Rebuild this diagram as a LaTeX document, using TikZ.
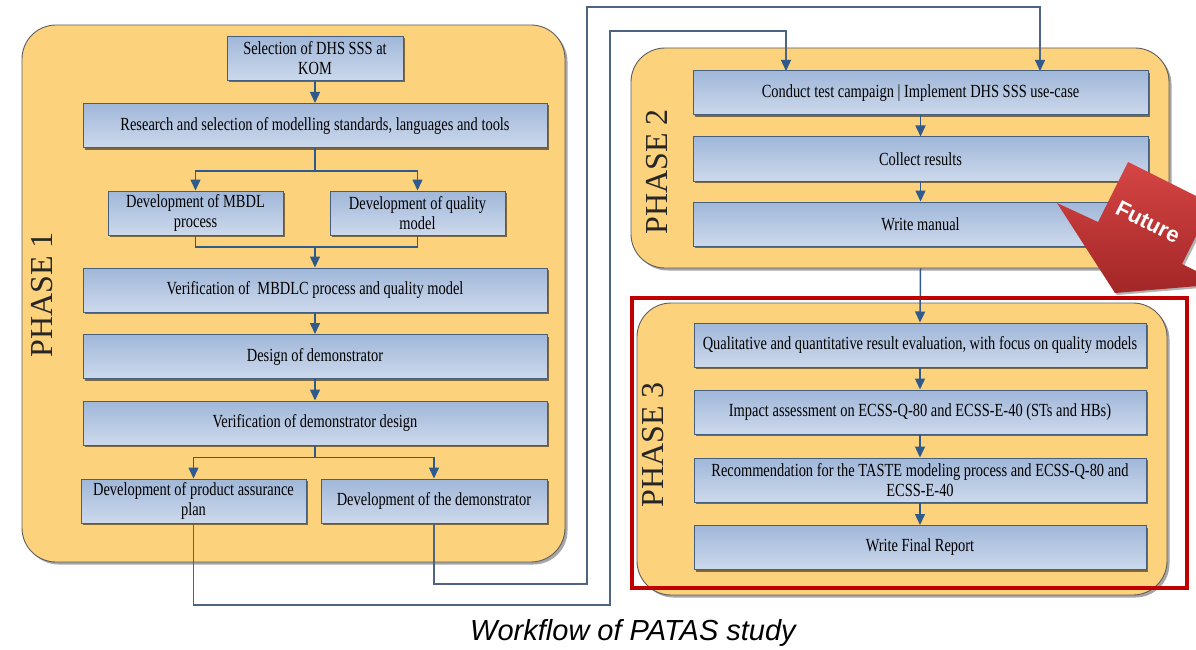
\documentclass[tikz,border=0pt]{standalone}
\usepackage{fontspec}
\setmainfont{Liberation Serif}
\newfontfamily\boxfont[FakeStretch=0.78]{Liberation Serif}
\newfontfamily\capsans{Liberation Sans}
\usetikzlibrary{arrows.meta,shadows,calc}
\definecolor{phasefill}{HTML}{FDD27D}
\definecolor{phasedraw}{HTML}{5E5E5E}
\definecolor{boxtop}{HTML}{A0B7D9}
\definecolor{boxbot}{HTML}{CDD9EC}
\definecolor{boxdraw}{HTML}{45607F}
\definecolor{arrowblue}{HTML}{2E5A8C}
\definecolor{linkgray}{HTML}{4F6482}
\definecolor{redframe}{HTML}{C00000}
\definecolor{futtop}{HTML}{D64545}
\definecolor{futbot}{HTML}{A32626}
\begin{document}
\begin{tikzpicture}[x=1pt,y=-1pt,
  phase/.style={draw=phasedraw,line width=0.9pt,fill=phasefill,rounded corners=34pt,inner sep=0pt,
    drop shadow={shadow xshift=2.5pt,shadow yshift=-2.5pt,fill=black,opacity=0.35}},
  stepbox/.style={draw=boxdraw,line width=1pt,top color=boxtop,bottom color=boxbot,inner sep=2pt,
    align=center,font=\boxfont\fontsize{18.5}{20}\selectfont,minimum height=44pt,
    drop shadow={shadow xshift=2pt,shadow yshift=-2pt,fill=black,opacity=0.5}},
  arr/.style={draw=arrowblue,line width=1.5pt,-{Triangle[length=11pt,width=10pt]}},
  plain/.style={draw=arrowblue,line width=1.5pt},
  link/.style={draw=linkgray,line width=1.2pt},
  linkarr/.style={link,-{Triangle[length=11pt,width=10pt,color=arrowblue]}},
  phaselabel/.style={rotate=90,font=\fontsize{32}{32}\selectfont,text=black!85}]
\useasboundingbox (0,0) rectangle (1196,650);
\clip (0,0) rectangle (1196,650);
\fill[white] (0,0) rectangle (1196,650);

% containers
\node[phase,minimum width=543pt,minimum height=537pt] (ph1) at (293.5,293.5) {};
\node[phase,minimum width=538pt,minimum height=220pt] (ph2) at (900,158) {};
\node[phase,minimum width=530pt,minimum height=292pt] (ph3) at (902,449) {};

\node[phaselabel] (l1) at (42,295) {PHASE 1};
\node[phaselabel] (l2) at (657,172) {PHASE 2};
\node[phaselabel] (l3) at (653,445) {PHASE 3};

% phase 1 boxes
\node[stepbox,minimum width=176pt] (sel) at (315,58.5) {Selection of DHS SSS at\\KOM};
\node[stepbox,minimum width=464pt] (res) at (315,125.5) {Research and selection of modelling standards, languages and tools};
\node[stepbox,minimum width=175pt] (mbdl) at (195.5,213) {Development of MBDL\\process};
\node[stepbox,minimum width=175pt] (qual) at (417.5,213) {Development of quality\\model};
\node[stepbox,minimum width=464pt] (ver) at (315,290) {Verification of\ \ MBDLC process and quality model};
\node[stepbox,minimum width=464pt] (des) at (315,356.5) {Design of demonstrator};
\node[stepbox,minimum width=464pt] (verd) at (315,423) {Verification of demonstrator design};
\node[stepbox,minimum width=225pt] (pa) at (193.5,501) {Development of product assurance\\plan};
\node[stepbox,minimum width=226pt] (dem) at (434,501) {Development of the demonstrator};

% phase 2 boxes
\node[stepbox,minimum width=455pt] (c1) at (920.5,93) {Conduct test campaign | Implement DHS SSS use-case};
\node[stepbox,minimum width=455pt] (c2) at (920.5,159) {Collect results};
\node[stepbox,minimum width=455pt] (c3) at (920.5,224) {Write manual};

% phase 3 boxes
\node[stepbox,minimum width=452pt] (q1) at (920,345) {Qualitative and quantitative result evaluation, with focus on quality models};
\node[stepbox,minimum width=452pt] (q2) at (920,412) {Impact assessment on ECSS-Q-80 and ECSS-E-40 (STs and HBs)};
\node[stepbox,minimum width=452pt] (q3) at (920,480) {Recommendation for the TASTE modeling process and ECSS-Q-80 and\\ECSS-E-40};
\node[stepbox,minimum width=452pt] (q4) at (920,547.5) {Write Final Report};

% phase 1 connectors
\draw[arr] (sel) -- (res);
\draw[arr] (res.south) -- ++(0,23) -| (mbdl.north);
\draw[arr] (res.south) -- ++(0,23) -| (qual.north);
\coordinate (m1) at (315,247);
\draw[plain] (mbdl.south) |- (m1) -| (qual.south);
\draw[arr] (m1) -- (ver.north);
\draw[arr] (ver) -- (des);
\draw[arr] (des) -- (verd);
\draw[arr] (verd.south) -- ++(0,12) -| (pa.north);
\draw[arr] (verd.south) -- ++(0,12) -| (dem.north);

% phase 2 / 3 connectors
\draw[arr] (c1) -- (c2);
\draw[arr] (c2) -- (c3);
\draw[arr] (c3.south |- ph2.south) -- (q1.north);
\draw[arr] (q1) -- (q2);
\draw[arr] (q2) -- (q3);
\draw[arr] (q3) -- (q4);

% links between phases
\coordinate (k1) at (610,605);
\coordinate (k2) at (610,31);
\coordinate (t1) at (786,71);
\draw[linkarr] (pa.south) |- (k1) -- (k2) -| (t1);
\coordinate (k3) at (587,584);
\coordinate (k4) at (587,7);
\coordinate (t2) at (1040,71);
\draw[linkarr] (dem.south) |- (k3) -- (k4) -| (t2);

% red frame
\node[draw=redframe,line width=4pt,minimum width=555pt,minimum height=290pt,inner sep=0pt] (red) at (909.5,443) {};

% future arrow
\fill[black,opacity=0.3,xshift=2pt,yshift=-2pt] (1128,162) -- (1212,204) -- (1182,264) -- (1222,284) -- (1115,293) -- (1057,203) -- (1098,222) -- cycle;
\shade[top color=futtop,bottom color=futbot] (1128,162) -- (1212,204) -- (1182,264) -- (1222,284) -- (1115,293) -- (1057,203) -- (1098,222) -- cycle;
\node[rotate=-26.6,text=white,font=\capsans\bfseries\fontsize{22}{22}\selectfont] (fut) at (1148,222) {Future};

% caption
\node[font=\capsans\itshape\fontsize{29}{29}\selectfont] (cap) at (633,633) {Workflow of PATAS study};
\end{tikzpicture}
\end{document}
